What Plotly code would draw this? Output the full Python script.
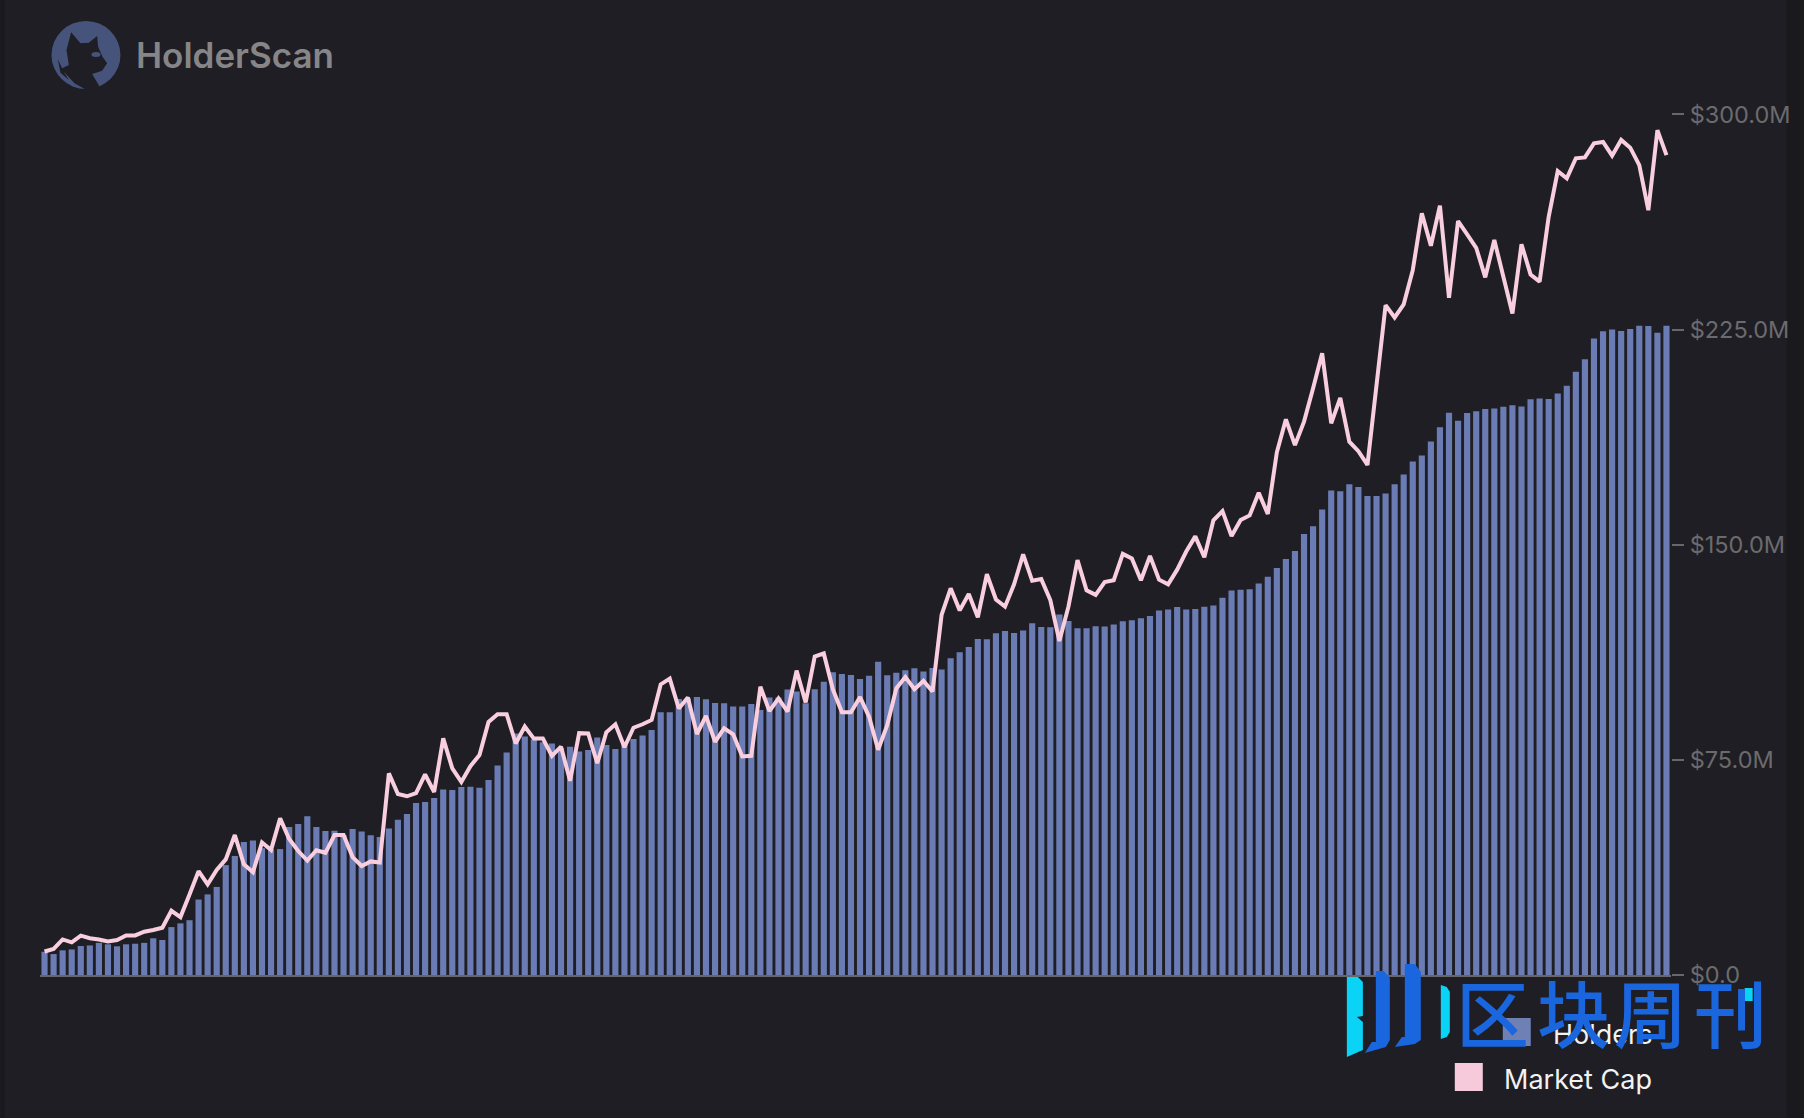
import plotly.graph_objects as go

holders = [
8.1,7.3,8.6,8.9,10.1,10.3,11.2,10.7,10.0,10.7,
10.9,11.2,12.8,12.2,16.7,18.0,19.1,26.3,28.1,30.7,
38.3,41.5,46.4,46.9,44.2,43.8,43.9,51.6,52.6,55.3,
51.6,50.2,50.3,48.8,50.9,50.0,48.7,48.1,51.1,54.1,
56.1,60.0,60.3,61.7,64.7,64.5,65.5,65.6,65.3,68.0,
73.0,77.6,84.2,83.1,82.1,81.1,80.7,79.0,79.6,77.9,
78.4,82.8,80.2,78.8,80.2,82.3,83.5,85.4,91.6,91.6,
96.2,96.4,96.9,96.1,94.8,94.7,93.6,93.6,94.5,92.4,
96.7,96.7,99.5,98.8,94.7,99.6,102.2,105.5,104.9,104.6,
103.2,104.3,109.2,104.5,105.4,106.2,106.9,105.8,107.0,106.5,
110.4,112.5,114.3,117.1,117.0,119.1,119.9,119.2,120.1,122.6,
121.3,121.2,125.7,123.4,120.9,120.9,121.6,121.5,122.2,123.3,
123.7,124.4,125.1,127.1,127.4,128.3,127.4,127.6,128.4,128.8,
131.5,134.0,134.3,134.5,136.5,138.8,141.9,145.0,147.8,153.7,
156.4,162.3,168.9,168.6,171.1,170.1,167.0,167.0,167.8,171.1,
174.5,179.0,181.1,186.0,190.9,196.0,193.2,195.9,196.5,197.3,
197.5,198.1,198.6,198.2,200.7,201.0,200.8,202.7,205.4,210.3,
214.6,221.9,224.4,225.0,224.5,225.2,226.3,226.2,223.9,226.3,
]

market_cap = [
8.2,9.1,12.4,11.4,13.7,12.8,12.4,11.7,12.2,13.8,
13.8,15.1,15.7,16.5,22.4,20.2,28.1,36.2,31.6,36.6,
40.3,48.8,38.6,35.8,46.2,43.6,54.6,47.4,43.2,39.9,
43.5,42.6,48.8,48.8,41.1,38.0,39.6,39.2,70.3,63.1,
62.3,63.4,69.9,63.8,82.5,72.0,67.3,72.8,76.7,88.2,
90.9,90.9,80.7,86.6,82.4,82.4,76.4,79.6,67.7,84.3,
84.2,73.8,84.6,87.4,79.4,86.2,87.4,88.9,101.3,103.3,
92.9,96.7,84.0,90.3,81.3,86.0,83.9,76.2,76.4,100.5,
92.0,96.4,91.8,106.1,95.0,111.0,112.1,99.6,91.6,91.6,
96.9,90.0,78.5,87.1,99.9,103.9,99.6,102.5,98.8,125.5,
134.8,127.1,132.8,124.7,139.7,130.9,128.4,136.2,146.6,137.4,
138.0,130.7,116.4,128.4,144.6,134.1,132.5,137.0,137.6,146.8,
145.2,137.6,146.1,137.8,136.2,141.3,147.6,152.9,145.6,158.5,
161.7,153.0,158.6,160.2,168.1,160.7,182.2,193.7,184.7,192.9,
204.5,216.7,192.3,201.2,185.9,182.6,177.8,205.1,233.5,229.2,
233.8,245.7,265.5,254.2,268.2,236.1,262.8,258.2,253.5,243.2,
256.2,243.4,230.6,254.7,244.2,241.7,264.3,280.2,277.7,284.7,
285.0,289.9,290.4,285.6,291.1,288.4,282.3,266.6,294.5,285.8,
]

periods = list(range(len(holders)))
tick_values = [0, 75, 150, 225, 300]
tick_labels = ["$0.0", "$75.0M", "$150.0M", "$225.0M", "$300.0M"]
series_names = ["Holders", "Market Cap"]

BG = "#1E1E24"
STRIP = "#19191E"
BAR = "#6A7CB3"
LINE = "#F9CFDF"
GREY = "#6B6B6D"
BLUE = "#1A66DE"
CYAN = "#0BD3F5"
W, H = 1804, 1118
L, R, T, B = 39.5, 1671.3, 57, 975


def px(x):
    return (x - L) / (R - L)


def py(y):
    return (B - y) / (B - T)


def path(points):
    return "M " + " L ".join(f"{px(x):.5f},{py(y):.5f}" for x, y in points) + " Z"


def rect(x0, y0, x1, y1, color, layer="above"):
    return dict(type="rect", xref="paper", yref="paper", x0=px(x0), x1=px(x1), y0=py(y0), y1=py(y1),
                fillcolor=color, line_width=0, layer=layer)


def poly(points, color):
    return dict(type="path", xref="paper", yref="paper", path=path(points), fillcolor=color, line_width=0, layer="above")


def label(x, y, text, size, color, anchor="left", family="Inter", weight=400):
    return dict(xref="paper", yref="paper", x=px(x), y=py(y), text=text, showarrow=False, xanchor=anchor, yanchor="middle",
                font=dict(family=family, size=size, color=color, weight=weight))


cat = [(x / 3, y / 3) for x, y in [(212, 97), (240, 130), (265, 128), (290, 108), (293, 140), (306, 170), (320, 190),
                                   (305, 212), (275, 222), (300, 264), (262, 272), (222, 250), (190, 215), (205, 240),
                                   (180, 218), (172, 178), (185, 205), (205, 195), (198, 150)]]

shapes = [
    rect(0, 0, 4, H, STRIP, "below"),
    rect(1787, 0, W, H, STRIP, "below"),
    dict(type="circle", xref="paper", yref="paper", x0=px(51), x1=px(120), y0=py(21), y1=py(89), fillcolor="#46547C", line_width=0, layer="above"),
    poly(cat, BG),
    dict(type="circle", xref="paper", yref="paper", x0=px(91), x1=px(100), y0=py(52), y1=py(57), fillcolor="#46547C", line_width=0, layer="above"),
    rect(1503, 1018, 1531, 1046, "#6F80B5"),
    rect(1455, 1063, 1483, 1091, "#F7CADB"),
    poly([(1347, 977), (1358, 977), (1363, 982), (1363, 1016), (1357, 1017), (1363, 1022), (1363, 1050), (1347, 1057)], CYAN),
    poly([(1365, 1053), (1372, 1042), (1376, 1042), (1376, 971), (1384, 971), (1390, 978), (1390, 1040), (1386, 1047)], BLUE),
    poly([(1395, 1047), (1402, 1037), (1405, 1037), (1405, 964), (1415, 964), (1421, 972), (1421, 1040), (1415, 1044)], BLUE),
    poly([(1441, 985), (1447, 987), (1450, 992), (1450, 1032), (1447, 1037), (1441, 1039)], CYAN),
    rect(1745, 988, 1753, 1001, CYAN),
]

annotations = [
    label(134, 55, "HolderScan", 35, "#868688", weight=600),
    label(1654, 1034, series_names[0], 27, "#F2F2F2", "right"),
    label(1654, 1079, series_names[1], 27, "#F2F2F2", "right"),
]
for cx, ch in zip([1493, 1574, 1651, 1731], "区块周刊"):
    annotations.append(label(cx, 1010, ch, 73, BLUE, "center", "Noto Sans CJK SC", 500))

fig = go.Figure()
fig.add_trace(go.Bar(x=periods, y=holders, name=series_names[0], marker=dict(color=BAR, line_width=0)))
fig.add_trace(go.Scatter(x=periods, y=market_cap, name=series_names[1], mode="lines", line=dict(color=LINE, width=4)))

fig.update_layout(
    width=W, height=H, autosize=False,
    margin=dict(l=L, r=W - R, t=T, b=H - B, pad=0),
    paper_bgcolor=BG, plot_bgcolor=BG,
    showlegend=False, bargap=0.32,
    shapes=shapes, annotations=annotations,
    font=dict(family="Inter"),
    xaxis=dict(range=[-0.5, len(periods) - 0.5], showgrid=False, zeroline=False, showticklabels=False, ticks="",
               showline=True, linecolor="#68686A", linewidth=2),
    yaxis=dict(side="right", range=[0, 320], tickvals=tick_values, ticktext=tick_labels, showgrid=False, zeroline=False,
               showline=False, ticks="outside", ticklen=12, tickwidth=1.5, tickcolor="#68686A",
               tickfont=dict(family="Inter", size=23.5, color=GREY), ticklabelstandoff=1, automargin=False),
)

fig.write_html("out.html", config={"displayModeBar": False},
               post_script="document.body.style.margin='0';document.body.style.background='" + BG + "';")
